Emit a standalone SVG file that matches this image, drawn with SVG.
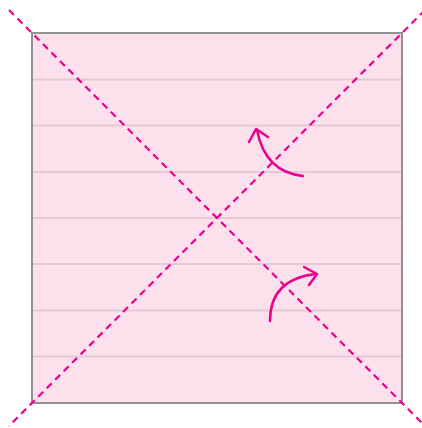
<svg xmlns="http://www.w3.org/2000/svg" width="422" height="428" viewBox="0 0 422 428">
<style>
.rule{stroke:#e5c9d5;stroke-width:2}
.diag{stroke:#ec008c;stroke-width:2.2;stroke-dasharray:7 5;fill:none}
.arr{stroke:#ec008c;stroke-width:2.5;fill:none;stroke-linecap:round;stroke-linejoin:round}
</style>
<rect x="0" y="0" width="422" height="428" fill="#ffffff"/>
<g id="paper">
<rect x="32" y="33" width="370" height="370" fill="#fce0ec" stroke="none"/>
<line class="rule" x1="33" y1="79.5" x2="401" y2="79.5"/>
<line class="rule" x1="33" y1="125.5" x2="401" y2="125.5"/>
<line class="rule" x1="33" y1="172" x2="401" y2="172"/>
<line class="rule" x1="33" y1="218" x2="401" y2="218"/>
<line class="rule" x1="33" y1="264" x2="401" y2="264"/>
<line class="rule" x1="33" y1="310.5" x2="401" y2="310.5"/>
<line class="rule" x1="33" y1="356.5" x2="401" y2="356.5"/>
<rect x="32" y="33" width="370" height="370" fill="none" stroke="#929292" stroke-width="2"/>
</g>
<g id="connectors">
<line class="diag" x1="9" y1="10" x2="424" y2="425"/>
<line class="diag" x1="425" y1="10" x2="9" y2="426"/>
<g id="arrow1">
<path class="arr" d="M303 176 Q265 172 257 130"/>
<path class="arr" d="M249 142 L256 129 L268 137"/>
</g>
<g id="arrow2">
<path class="arr" d="M270 321 Q270 279 316 274"/>
<path class="arr" d="M304 267 L317 274 L309 285"/>
</g>
</g>
</svg>
